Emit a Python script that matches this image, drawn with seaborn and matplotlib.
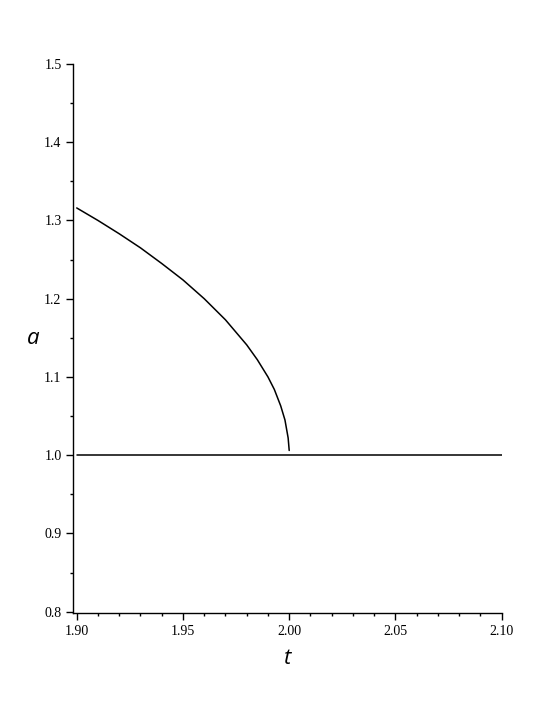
"""Phase curve a(t) with the a = 1 branch, Maple-like look."""

import matplotlib

matplotlib.use("Agg")

import matplotlib.pyplot as plt
from matplotlib.ticker import MultipleLocator, FormatStrFormatter
import pandas as pd
import seaborn as sns


# values
curve_t = [1.90, 1.91, 1.92, 1.93, 1.94, 1.95, 1.96, 1.97, 1.98, 1.985,
           1.99, 1.993, 1.996, 1.998, 1.9995, 2.0]
curve_a = [1.316, 1.300, 1.283, 1.265, 1.245, 1.224, 1.200, 1.173, 1.141, 1.122,
           1.100, 1.084, 1.063, 1.045, 1.022, 1.006]
flat_t = [1.90, 2.10]
flat_a = [1.0, 1.0]

x_ticks = [1.90, 1.95, 2.00, 2.05, 2.10]
y_ticks = [0.8, 0.9, 1.0, 1.1, 1.2, 1.3, 1.4, 1.5]

TICK_FONT = "Liberation Serif"
LABEL_FONT = ["Open Sans", "DejaVu Sans"]


def main() -> None:
    sns.set_theme(style="white")
    plt.rcParams.update(
        {
            "axes.edgecolor": "black",
            "axes.linewidth": 1.0,
            "axes.labelcolor": "black",
            "text.color": "black",
            "xtick.color": "black",
            "ytick.color": "black",
            "xtick.bottom": True,
            "ytick.left": True,
        }
    )

    fig = plt.figure(figsize=(5.53, 7.15), dpi=100)
    ax = fig.add_axes([0.1326, 0.1427, 0.7746, 0.7678])

    curve = pd.DataFrame({"t": curve_t, "a": curve_a})
    flat = pd.DataFrame({"t": flat_t, "a": flat_a})
    sns.lineplot(data=curve, x="t", y="a", color="black", lw=1.1,
                 estimator=None, sort=False, ax=ax)
    sns.lineplot(data=flat, x="t", y="a", color="black", lw=1.1,
                 estimator=None, sort=False, ax=ax)

    ax.set_xlim(1.8984, 2.10)
    ax.set_ylim(0.7983, 1.5)
    ax.set_xticks(x_ticks)
    ax.set_yticks(y_ticks)
    ax.xaxis.set_minor_locator(MultipleLocator(0.01))
    ax.yaxis.set_minor_locator(MultipleLocator(0.05))
    ax.xaxis.set_major_formatter(FormatStrFormatter("%.2f"))
    ax.yaxis.set_major_formatter(FormatStrFormatter("%.1f"))

    ax.tick_params(axis="both", which="major", direction="out", length=5,
                   width=1.0, pad=3.5, labelsize=10, labelcolor="black")
    ax.tick_params(axis="both", which="minor", direction="out", length=2.5,
                   width=1.0)
    for label in ax.get_xticklabels() + ax.get_yticklabels():
        label.set_fontfamily(TICK_FONT)

    for side in ("top", "right"):
        ax.spines[side].set_visible(False)

    ax.set_xlabel("t", family=LABEL_FONT, style="italic", fontsize=16,
                  color="black")
    ax.set_ylabel("a", family=LABEL_FONT, style="italic", fontsize=16,
                  color="black", rotation=0, va="center", ha="center")
    ax.xaxis.set_label_coords(0.501, -0.064)
    ax.yaxis.set_label_coords(-0.094, 0.5)

    fig.savefig("out.png", dpi=100)
    plt.close(fig)


if __name__ == "__main__":
    main()
